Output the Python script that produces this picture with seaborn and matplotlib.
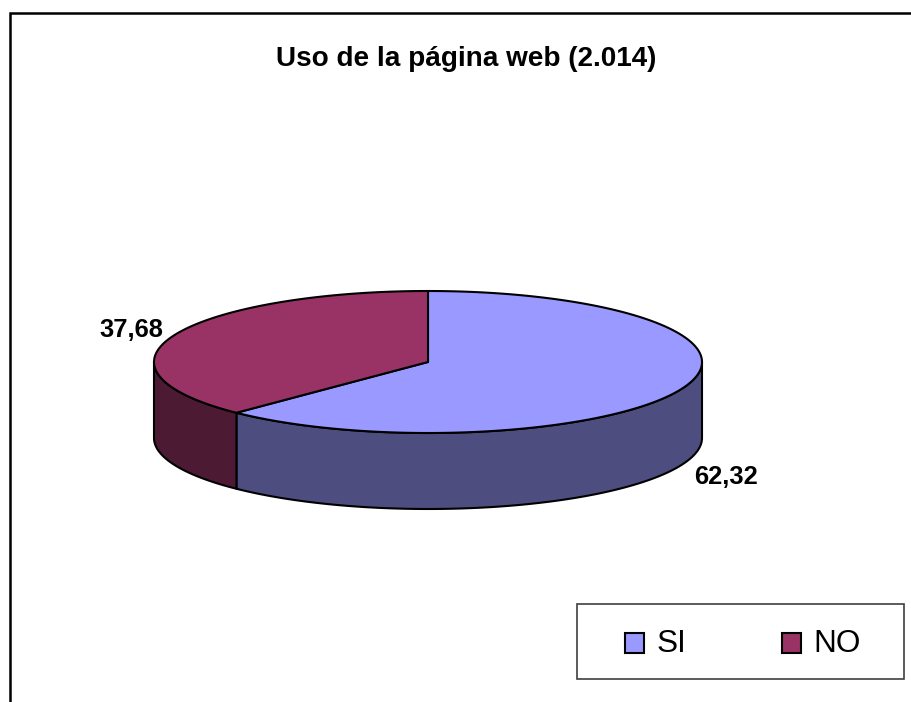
import numpy as np
import matplotlib
matplotlib.use('Agg')
import matplotlib.pyplot as plt
from matplotlib.patches import Rectangle
import seaborn as sns

# datos del grafico
categorias = ['SI', 'NO']
valores = [62.32, 37.68]
etiquetas = ['62,32', '37,68']
titulo = 'Uso de la página web (2.014)'
colores = ['#9999FF', '#993366']
colores_lado = ['#4D4D80', '#4D1A33']

W, H = 911, 702
CX, CY, RX, RY, DEPTH = 428, 362, 274, 71, 76

sns.set_style('white')
plt.rcParams['font.family'] = ['Liberation Sans', 'DejaVu Sans']
plt.rcParams['text.color'] = 'black'

fig = plt.figure(figsize=(W / 100, H / 100), dpi=100)
ax = fig.add_axes([0, 0, 1, 1])
ax.set_xlim(0, W)
ax.set_ylim(H, 0)
ax.axis('off')

# marco del grafico (solo arriba e izquierda, la imagen esta recortada)
ax.plot([9.5, 9.5, W], [H, 13, 13], color='black', lw=1.8, solid_joinstyle='miter')


def elipse(th, dy=0):
    """angulo en grados desde las 12, sentido horario"""
    t = np.radians(th)
    return CX + RX * np.sin(t), CY - RY * np.cos(t) + dy


# angulos de cada sector a partir de los valores
total = sum(valores)
cortes = np.cumsum([0] + [v / total * 360 for v in valores])

# paredes laterales: solo la mitad frontal de la elipse (90 a 270 grados)
for i in range(len(valores)):
    a, b = max(cortes[i], 90), min(cortes[i + 1], 270)
    if a >= b:
        continue
    th = np.linspace(a, b, 200)
    x, y = elipse(th)
    x2, y2 = elipse(th[::-1], DEPTH)
    ax.fill(np.r_[x, x2], np.r_[y, y2], facecolor=colores_lado[i],
            edgecolor='black', lw=1.5, joinstyle='round')

# cara superior
for i in range(len(valores)):
    th = np.linspace(cortes[i], cortes[i + 1], 300)
    x, y = elipse(th)
    ax.fill(np.r_[CX, x], np.r_[CY, y], facecolor=colores[i],
            edgecolor='black', lw=1.5, joinstyle='round')

# etiquetas de datos
ax.text(726, 477, etiquetas[0], fontsize=18.4, fontweight='bold', ha='center', va='center')
ax.text(131.5, 330, etiquetas[1], fontsize=18.4, fontweight='bold', ha='center', va='center')

ax.text(466.5, 59, titulo, fontsize=20.1, fontweight='bold', ha='center', va='center')

# leyenda
ax.add_patch(Rectangle((576.5, 604), 327, 75, facecolor='white', edgecolor='#404040', lw=1.2))
for x0, c, nom in zip([625, 782], colores, categorias):
    ax.add_patch(Rectangle((x0, 633), 19, 20, facecolor=c, edgecolor='black', lw=1.5))
    ax.text(x0 + 31.5, 644, nom, fontsize=22.7, ha='left', va='center')

fig.savefig('out.png', dpi=100, facecolor='white')
plt.close()
